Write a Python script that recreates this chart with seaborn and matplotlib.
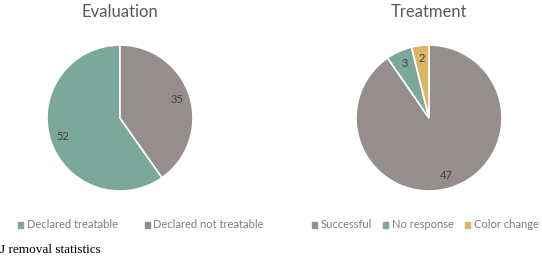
import matplotlib
matplotlib.use("Agg")
import matplotlib.pyplot as plt
from matplotlib.patches import Patch
import seaborn as sns

sns.set_theme(style="white")
plt.rcParams['font.family'] = ['Lato', 'DejaVu Sans']

# Data
eval_labels = ["Declared treatable", "Declared not treatable"]
eval_values = [52, 35]
treat_labels = ["Successful", "No response", "Color change"]
treat_values = [47, 3, 2]

teal = "#7AA89A"
taupe = "#968E8C"
gold = "#DDB462"
eval_colors = [teal, taupe]
treat_colors = [taupe, teal, gold]

W, H = 542, 258
fig = plt.figure(figsize=(W / 100, H / 100), dpi=100)


def pie_axes(cx, cy, r):
    return fig.add_axes([(cx - r) / W, (H - cy - r) / H, 2 * r / W, 2 * r / H])


def draw_pie(ax, values, colors, counterclock):
    ax.pie(values, colors=colors, startangle=90, counterclock=counterclock,
           autopct=lambda p: f"{p * sum(values) / 100:.0f}", pctdistance=0.82,
           wedgeprops=dict(edgecolor="white", linewidth=1.2),
           textprops=dict(color="#404040", fontsize=8))
    ax.set_xlim(-1, 1)
    ax.set_ylim(-1, 1)
    ax.set_aspect("equal")


ax1 = pie_axes(120, 118, 73)
draw_pie(ax1, eval_values, eval_colors, True)
ax2 = pie_axes(429, 118, 73)
draw_pie(ax2, treat_values, treat_colors, False)

# Titles
fig.text(120 / W, 1 - 12 / H, "Evaluation", ha="center", va="center",
         fontsize=12, color="#595959")
fig.text(429 / W, 1 - 12 / H, "Treatment", ha="center", va="center",
         fontsize=12, color="#595959")

# Legends
leg_kw = dict(frameon=False, handlelength=0.45, handleheight=0.45,
              handletextpad=0.35, fontsize=8, labelcolor="#7F7F7F",
              borderpad=0, borderaxespad=0)
h1 = [Patch(color=c, label=l) for c, l in zip(eval_colors, eval_labels)]
fig.legend(handles=h1, ncol=2, columnspacing=2.4, loc="center",
           bbox_to_anchor=(141 / W, 1 - 225 / H), **leg_kw)
h2 = [Patch(color=c, label=l) for c, l in zip(treat_colors, treat_labels)]
fig.legend(handles=h2, ncol=3, columnspacing=1.0, loc="center right",
           bbox_to_anchor=(539 / W, 1 - 225 / H), **leg_kw)

# Caption
fig.text(0, 1 - 250 / H, "J removal statistics", ha="left", va="center",
         fontsize=9.5, family="Liberation Serif", color="black")

fig.savefig("out.png", dpi=100)
